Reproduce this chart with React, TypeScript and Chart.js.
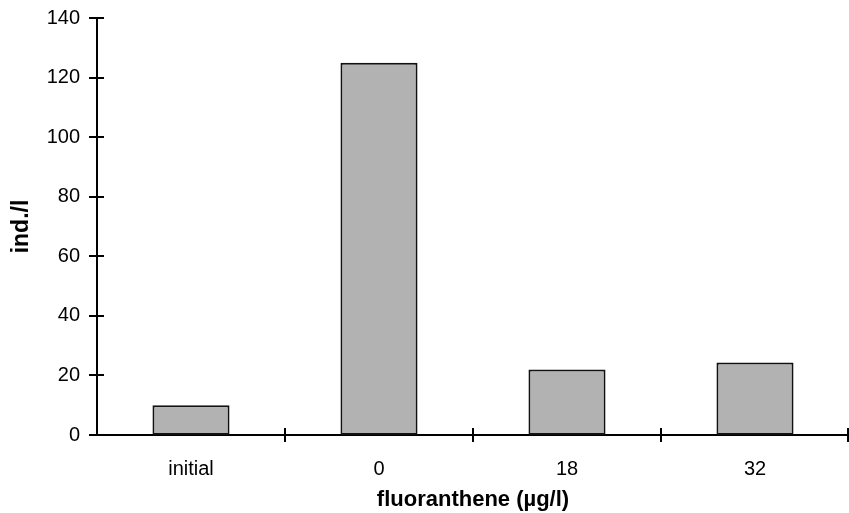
import React, { useEffect, useRef } from "react";
import { Chart, registerables } from "chart.js";

Chart.register(...registerables);

const categories = ["initial", "0", "18", "32"];
const values = [10, 125, 22, 24.3];
const yTicks = [0, 20, 40, 60, 80, 100, 120, 140];
const xTitle = "fluoranthene (µg/l)";
const yTitle = "ind./l";

const FONT = "'Liberation Sans', Arial, Helvetica, sans-serif";

const crossTicks = {
  id: "crossTicks",
  afterDraw(chart: any) {
    const ctx = chart.ctx;
    const xs = chart.scales.x;
    const ys = chart.scales.y;
    const area = chart.chartArea;
    ctx.save();
    ctx.strokeStyle = "#000";
    ctx.lineWidth = 2;
    ctx.beginPath();
    yTicks.forEach((v) => {
      const y = Math.round(ys.getPixelForValue(v));
      ctx.moveTo(area.left - 8, y);
      ctx.lineTo(area.left + 7, y);
    });
    const n = categories.length;
    for (let i = 1; i <= n; i++) {
      let x;
      if (i < n) x = (xs.getPixelForValue(i - 1) + xs.getPixelForValue(i)) / 2;
      else x = xs.getPixelForValue(n - 1) + (xs.getPixelForValue(n - 1) - xs.getPixelForValue(n - 2)) / 2 - 1;
      x = Math.round(x);
      ctx.moveTo(x, area.bottom - 7);
      ctx.lineTo(x, area.bottom + 7);
    }
    ctx.stroke();
    ctx.restore();
  },
};

export default function App() {
  const ref = useRef<HTMLCanvasElement>(null);
  useEffect(() => {
    if (!ref.current) return;
    const chart = new Chart(ref.current, {
      type: "bar",
      data: {
        labels: categories,
        datasets: [
          {
            data: values,
            backgroundColor: "#b2b2b2",
            borderColor: "#111",
            borderWidth: 2,
            borderSkipped: false,
            categoryPercentage: 1,
            barPercentage: 0.41,
          },
        ],
      },
      options: {
        responsive: false,
        animation: false,
        layout: { padding: { top: 18, right: 0, left: 0, bottom: 0 } },
        plugins: { legend: { display: false }, tooltip: { enabled: false } },
        scales: {
          x: {
            grid: { display: false, drawTicks: false },
            border: { display: true, color: "#000", width: 2 },
            ticks: {
              color: "#000",
              font: { family: FONT, size: 20 },
              padding: 22,
            },
            title: {
              display: true,
              text: xTitle,
              color: "#000",
              font: { family: FONT, size: 22, weight: "bold" },
              padding: { top: 0, bottom: 0 },
            },
            afterFit(scale: any) {
              scale.height = 78;
              scale.paddingLeft = 0;
              scale.paddingRight = 0;
            },
          },
          y: {
            min: 0,
            max: 140,
            grid: { display: false, drawTicks: false },
            border: { display: true, color: "#000", width: 2 },
            ticks: {
              stepSize: 20,
              color: "#000",
              font: { family: FONT, size: 20 },
              padding: 17,
            },
            title: {
              display: true,
              text: yTitle,
              color: "#000",
              font: { family: FONT, size: 23, weight: "bold" },
              padding: { top: 8, bottom: 0 },
            },
            afterFit(scale: any) {
              scale.width = 97;
              scale.paddingTop = 0;
              scale.paddingBottom = 0;
            },
          },
        },
      },
      plugins: [crossTicks],
    });
    return () => chart.destroy();
  }, []);
  return (
    <canvas
      ref={ref}
      width={849}
      height={513}
      style={{ position: "absolute", left: 0, top: 0, width: 849, height: 513 }}
    />
  );
}
